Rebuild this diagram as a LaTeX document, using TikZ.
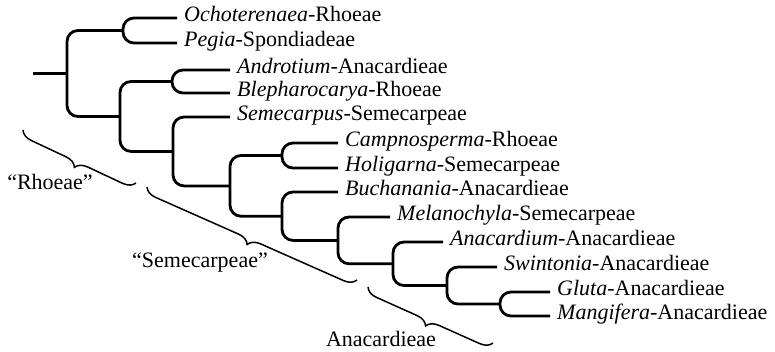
\documentclass[tikz,border=0pt]{standalone}
\usepackage{fontspec}
\setmainfont{Liberation Serif}
\usetikzlibrary{decorations.pathreplacing}
\begin{document}
\begin{tikzpicture}[x=1pt,y=-1pt,
  every node/.style={font=\fontsize{22}{26}\selectfont},
  branch/.style={line width=2.8pt, rounded corners=11pt},
  leaf/.style={anchor=west, inner xsep=7pt, inner ysep=0pt, text height=0.8em, text depth=0.08em},
  lab/.style={inner sep=0pt},
  bracket/.style={line width=1.5pt, decorate, decoration={brace, amplitude=12pt}}]
\useasboundingbox (0,0) rectangle (775,351);
% leaves
\node[leaf] (l1) at (177,18) {\textit{Ochoterenaea}-Rhoeae};
\node[leaf] (l2) at (177,43) {\textit{Pegia}-Spondiadeae};
\node[leaf] (l3) at (230,70) {\textit{Androtium}-Anacardieae};
\node[leaf] (l4) at (230,93) {\textit{Blepharocarya}-Rhoeae};
\node[leaf] (l5) at (230,117) {\textit{Semecarpus}-Semecarpeae};
\node[leaf] (l6) at (338,143) {\textit{Campnosperma}-Rhoeae};
\node[leaf] (l7) at (338,168) {\textit{Holigarna}-Semecarpeae};
\node[leaf] (l8) at (338,192) {\textit{Buchanania}-Anacardieae};
\node[leaf] (l9) at (390,217) {\textit{Melanochyla}-Semecarpeae};
\node[leaf] (l10) at (443,242) {\textit{Anacardium}-Anacardieae};
\node[leaf] (l11) at (497,267) {\textit{Swintonia}-Anacardieae};
\node[leaf] (l12) at (550,292) {\textit{Gluta}-Anacardieae};
\node[leaf] (l13) at (550,316) {\textit{Mangifera}-Anacardieae};
% internal nodes
\coordinate (K) at (500,304);
\coordinate (J) at (447,285.5);
\coordinate (I) at (393,263.75);
\coordinate (H) at (338,240.4);
\coordinate (G) at (282,216.2);
\coordinate (F) at (282,155.5);
\coordinate (E) at (230,185.9);
\coordinate (D) at (173,151.4);
\coordinate (C) at (172,81.5);
\coordinate (B) at (120,116.5);
\coordinate (A) at (123,30.5);
\coordinate (R) at (67,73.5);
\coordinate (R0) at (33,73.5);
% branches
\draw[branch] (R0) -- (R);
\draw[branch] (A) -| (R |- B) -- (B);
\draw[branch] (l1.west) -| (A |- l2.west) -- (l2.west);
\draw[branch] (C) -| (B |- D) -- (D);
\draw[branch] (l3.west) -| (C |- l4.west) -- (l4.west);
\draw[branch] (l5.west) -| (D |- E) -- (E);
\draw[branch] (F) -| (E |- G) -- (G);
\draw[branch] (l6.west) -| (F |- l7.west) -- (l7.west);
\draw[branch] (l8.west) -| (G |- H) -- (H);
\draw[branch] (l9.west) -| (H |- I) -- (I);
\draw[branch] (l10.west) -| (I |- J) -- (J);
\draw[branch] (l11.west) -| (J |- K) -- (K);
\draw[branch] (l12.west) -| (K |- l13.west) -- (l13.west);
% braces
\coordinate (rhA) at (23,130);
\coordinate (rhB) at (136,183);
\coordinate (seA) at (147,187);
\coordinate (seB) at (357,280);
\coordinate (anA) at (368,287);
\coordinate (anB) at (493,343);
\draw[bracket] (rhB) -- (rhA);
\draw[bracket] (seB) -- (seA);
\draw[bracket] (anB) -- (anA);
\node[lab] (rh) at (50,182) {“Rhoeae”};
\node[lab] (se) at (200,263) {“Semecarpeae”};
\node[lab] (an) at (381,339) {Anacardieae};
\end{tikzpicture}
\end{document}
